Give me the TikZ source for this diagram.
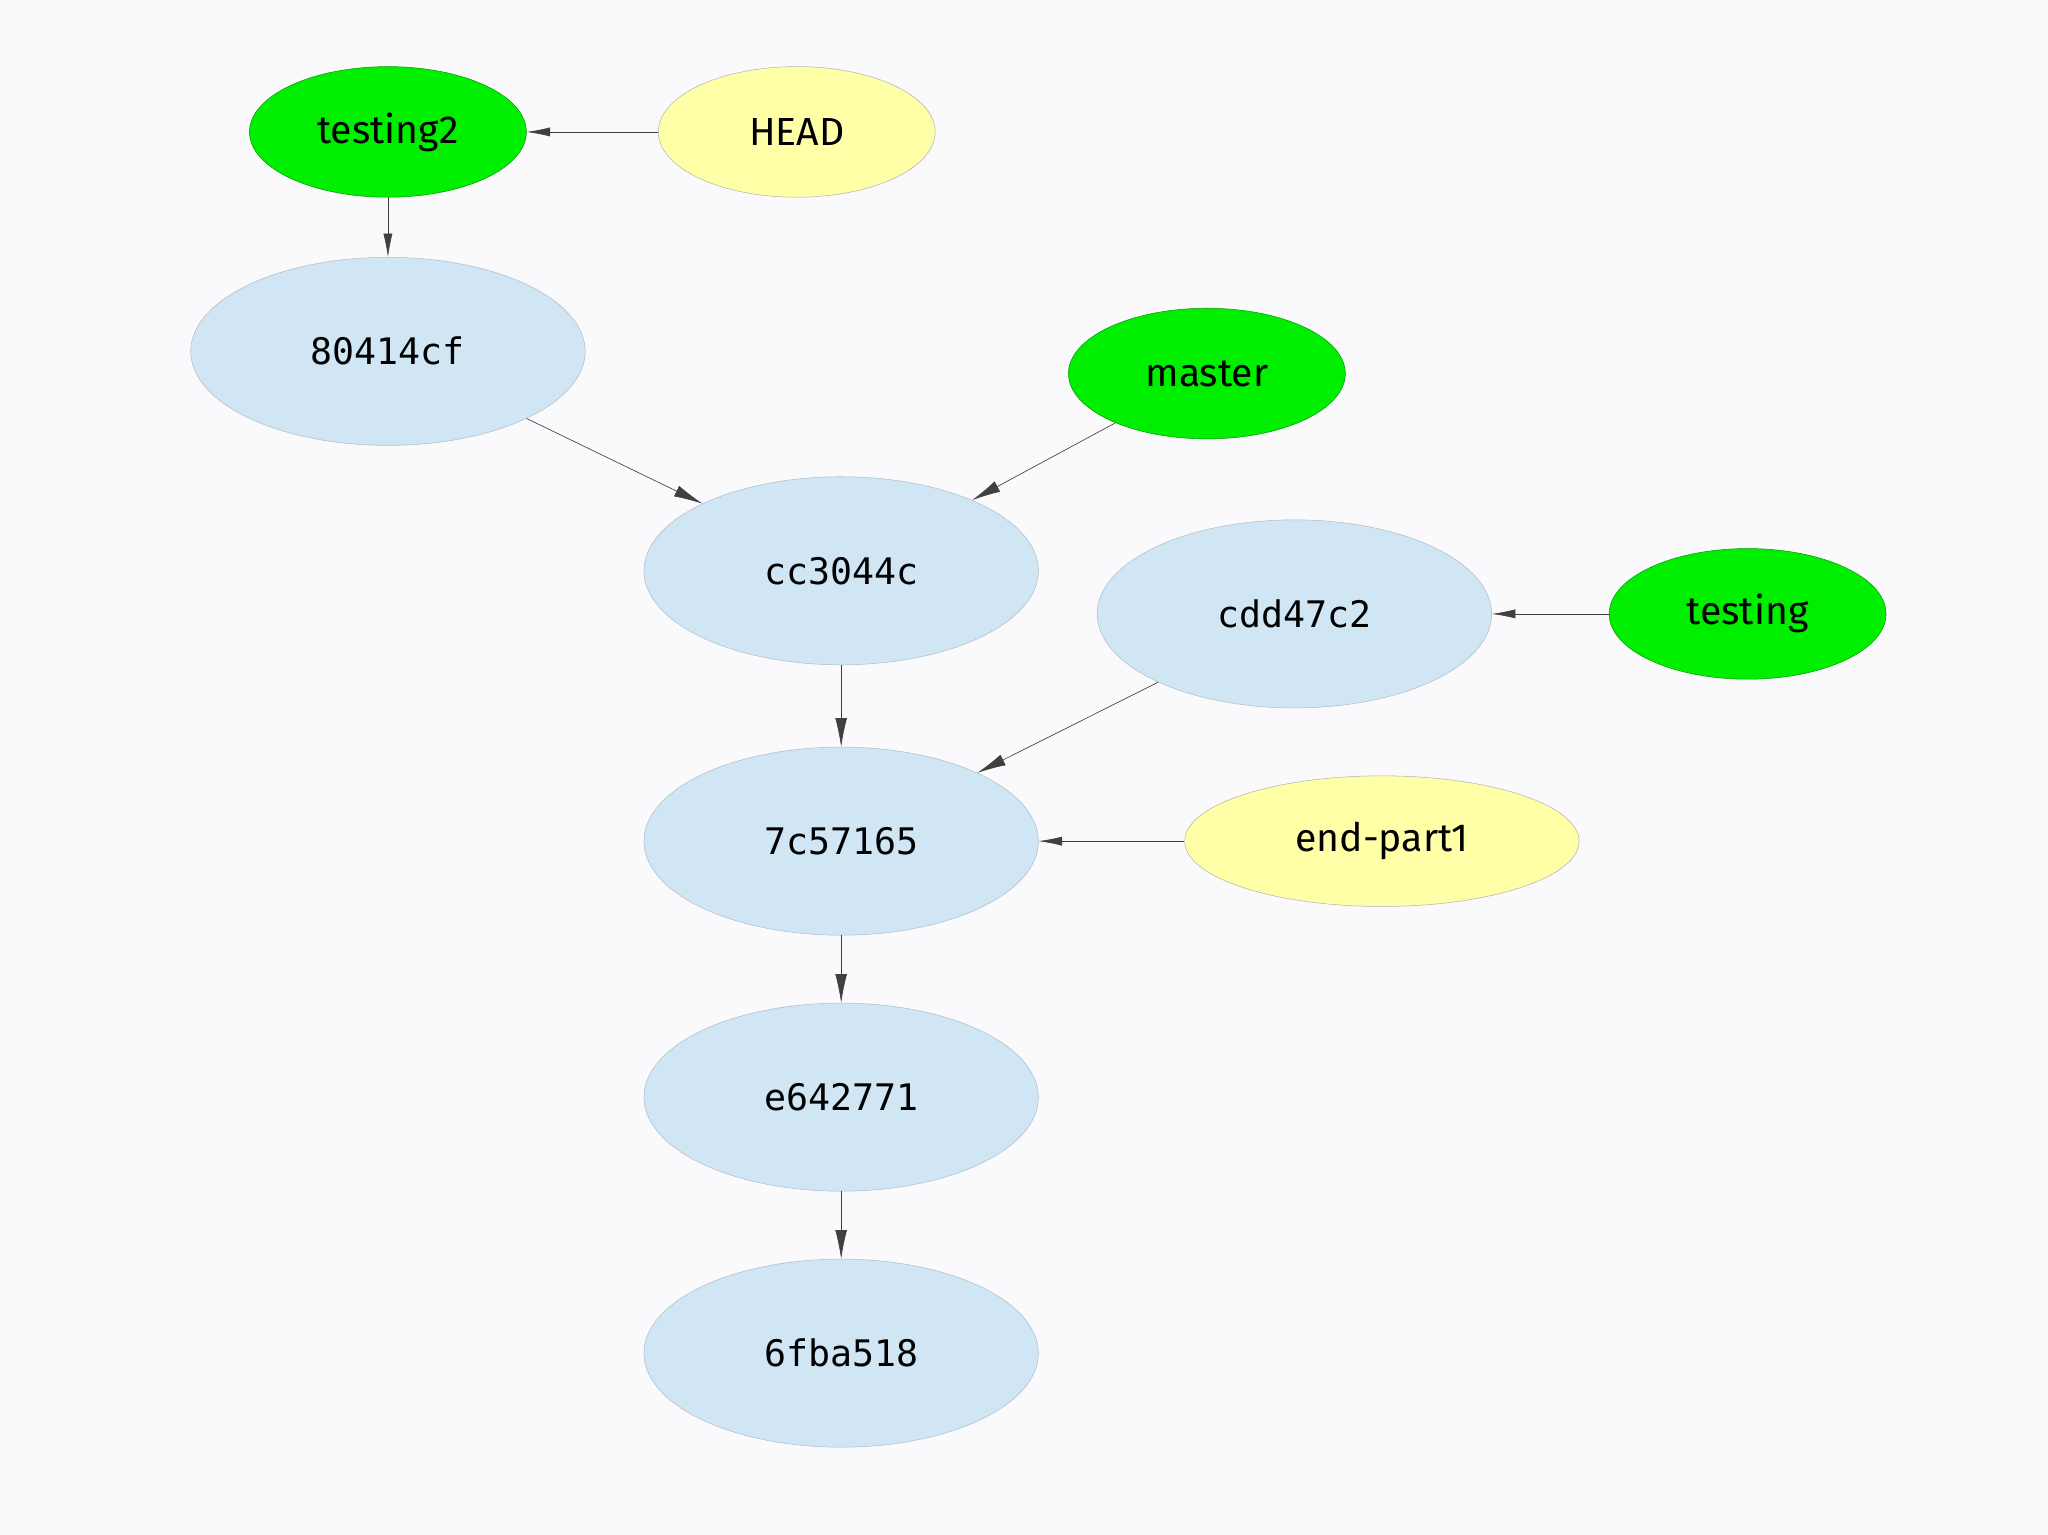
\documentclass[tikz,border=0pt]{standalone}
\usepackage{fontspec}
\setsansfont{Fira Sans}
\setmonofont{DejaVu Sans Mono}
\usetikzlibrary{shapes.geometric,arrows.meta}
\definecolor{bg}{HTML}{FAFAFC}
\definecolor{gr}{HTML}{00EE00}
\definecolor{yl}{HTML}{FFFFA8}
\definecolor{bl}{HTML}{D0E6F5}
\begin{document}
\begin{tikzpicture}[x=1pt,y=-1pt,
  base/.style={ellipse,inner sep=0pt,draw=gray!70,line width=0.4pt},
  refg/.style={base,fill=gr,draw=green!60!black,minimum width=212pt,minimum height=100pt,font=\sffamily\fontsize{30}{30}\selectfont},
  refy/.style={base,fill=yl,draw=gray!60,minimum height=100pt,font=\sffamily\fontsize{30}{30}\selectfont},
  commit/.style={base,fill=bl,draw=bl!60!gray,minimum width=302pt,minimum height=144pt,font=\ttfamily\fontsize{28}{28}\selectfont},
  edge/.style={draw=black!75,line width=0.5pt,-{Latex[length=22pt,width=9pt]}},
  sedge/.style={draw=black!75,line width=0.5pt,-{Latex[length=18pt,width=7pt]}}]
\fill[bg] (0,0) rectangle (1568,1175);
\useasboundingbox (0,0) rectangle (1568,1175);
\node[refg] (t2) at (297,101) {testing2};
\node[refy,minimum width=212pt] (head) at (610,101) {HEAD};
\node[commit] (c80) at (297,269) {80414cf};
\node[refg] (master) at (924,286) {master};
\node[commit] (cc3) at (644,437) {cc3044c};
\node[commit] (cdd) at (991,470) {cdd47c2};
\node[refg] (testing) at (1338,470) {testing};
\node[commit] (c7c) at (644,644) {7c57165};
\node[refy,minimum width=302pt] (end) at (1058,644) {end-part1};
\node[commit] (e64) at (644,840) {e642771};
\node[commit] (c6f) at (644,1036) {6fba518};
\draw[sedge] (head) -- (t2);
\draw[sedge] (t2) -- (c80);
\draw[edge] (c80) -- (cc3);
\draw[edge] (master) -- (cc3);
\draw[edge] (cc3) -- (c7c);
\draw[edge] (cdd) -- (c7c);
\draw[sedge] (testing) -- (cdd);
\draw[sedge] (end) -- (c7c);
\draw[edge] (c7c) -- (e64);
\draw[edge] (e64) -- (c6f);
\end{tikzpicture}
\end{document}
